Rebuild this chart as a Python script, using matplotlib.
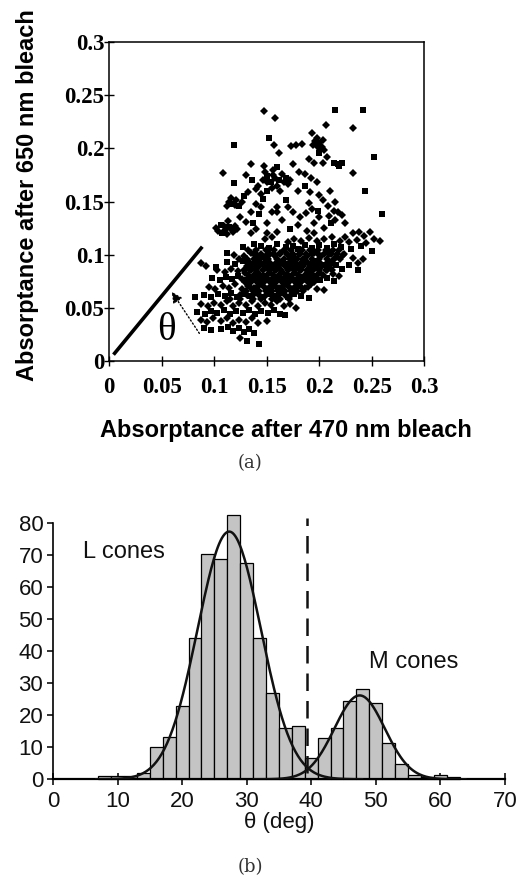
import numpy as np
import matplotlib.pyplot as plt

# ---- panel (a): absorptance scatter ----
# upper cluster (M cones), squares and diamonds
upper_sq = [
    (0.215, 0.236), (0.242, 0.236), (0.152, 0.210), (0.119, 0.203), (0.252, 0.192),
    (0.214, 0.186), (0.218, 0.185), (0.222, 0.186), (0.219, 0.183), (0.160, 0.182),
    (0.244, 0.160), (0.260, 0.138), (0.119, 0.167), (0.136, 0.170), (0.168, 0.151),
    (0.150, 0.174), (0.154, 0.168), (0.162, 0.170), (0.168, 0.172), (0.186, 0.165),
    (0.150, 0.160), (0.128, 0.155), (0.118, 0.148), (0.124, 0.146), (0.146, 0.152),
    (0.143, 0.138), (0.199, 0.141), (0.137, 0.130), (0.211, 0.130), (0.106, 0.128),
    (0.114, 0.126), (0.107, 0.120), (0.172, 0.124), (0.200, 0.196),
]
upper_dm = [
    (0.147, 0.235), (0.158, 0.229), (0.206, 0.222), (0.232, 0.219), (0.193, 0.214),
    (0.196, 0.207), (0.200, 0.205), (0.203, 0.201), (0.198, 0.210), (0.157, 0.203),
    (0.173, 0.202), (0.178, 0.203), (0.184, 0.204), (0.205, 0.198), (0.162, 0.196),
    (0.207, 0.192), (0.195, 0.186), (0.204, 0.186), (0.147, 0.183), (0.156, 0.180),
    (0.108, 0.177), (0.232, 0.177), (0.181, 0.178), (0.186, 0.176), (0.146, 0.170),
    (0.158, 0.172), (0.165, 0.176), (0.170, 0.166), (0.192, 0.172), (0.198, 0.168),
    (0.140, 0.162), (0.145, 0.157), (0.155, 0.163), (0.163, 0.160), (0.191, 0.159),
    (0.200, 0.156), (0.132, 0.159), (0.114, 0.150), (0.121, 0.151), (0.140, 0.148),
    (0.190, 0.149), (0.204, 0.151), (0.208, 0.146), (0.214, 0.141), (0.135, 0.140),
    (0.155, 0.140), (0.187, 0.139), (0.193, 0.143), (0.209, 0.136), (0.218, 0.140),
    (0.222, 0.137), (0.113, 0.132), (0.130, 0.131), (0.150, 0.130), (0.165, 0.133),
    (0.215, 0.133), (0.180, 0.128), (0.102, 0.125), (0.110, 0.123), (0.118, 0.121),
    (0.122, 0.124), (0.140, 0.124), (0.188, 0.122), (0.160, 0.121), (0.087, 0.092),
    (0.092, 0.089),
    (0.150, 0.168), (0.156, 0.175), (0.160, 0.165), (0.166, 0.168), (0.172, 0.170),
    (0.148, 0.178), (0.142, 0.165), (0.198, 0.202), (0.201, 0.199), (0.204, 0.208),
    (0.194, 0.203), (0.116, 0.153), (0.120, 0.147), (0.126, 0.150), (0.112, 0.146),
    (0.104, 0.122), (0.109, 0.127), (0.116, 0.124), (0.112, 0.119), (0.120, 0.127),
    (0.145, 0.145), (0.160, 0.145), (0.175, 0.140), (0.182, 0.135), (0.195, 0.130),
    (0.205, 0.125), (0.225, 0.130), (0.180, 0.160), (0.175, 0.185), (0.190, 0.190),
    (0.210, 0.160), (0.215, 0.150), (0.135, 0.185), (0.130, 0.175), (0.125, 0.135),
    (0.160, 0.140), (0.170, 0.145), (0.195, 0.120), (0.200, 0.135), (0.150, 0.120),
    (0.135, 0.120),
]
# lower cluster (L cones)
lower_sq = [
    (0.082, 0.060), (0.112, 0.102), (0.102, 0.088), (0.131, 0.019), (0.143, 0.016),
    (0.167, 0.043), (0.237, 0.086),
    (0.127, 0.107), (0.138, 0.110), (0.145, 0.108), (0.152, 0.106), (0.160, 0.110),
    (0.168, 0.107), (0.175, 0.108), (0.180, 0.105), (0.186, 0.109), (0.193, 0.106),
    (0.200, 0.109), (0.207, 0.106), (0.214, 0.110), (0.221, 0.107), (0.230, 0.105),
    (0.240, 0.108), (0.250, 0.103),
    (0.112, 0.093), (0.120, 0.091), (0.127, 0.094), (0.133, 0.090), (0.139, 0.093),
    (0.145, 0.091), (0.150, 0.094), (0.156, 0.090), (0.162, 0.093), (0.168, 0.091),
    (0.174, 0.094), (0.180, 0.090), (0.186, 0.093), (0.192, 0.091), (0.198, 0.094),
    (0.204, 0.090), (0.210, 0.093), (0.216, 0.090), (0.222, 0.087), (0.228, 0.090),
    (0.098, 0.078), (0.105, 0.076), (0.111, 0.079), (0.117, 0.077), (0.123, 0.080),
    (0.129, 0.076), (0.135, 0.079), (0.141, 0.077), (0.147, 0.080), (0.153, 0.076),
    (0.159, 0.079), (0.165, 0.077), (0.171, 0.080), (0.177, 0.076), (0.183, 0.079),
    (0.189, 0.077), (0.195, 0.080), (0.201, 0.076), (0.207, 0.078), (0.214, 0.075),
    (0.090, 0.062), (0.097, 0.060), (0.104, 0.063), (0.110, 0.061), (0.116, 0.064),
    (0.122, 0.060), (0.128, 0.063), (0.134, 0.061), (0.140, 0.064), (0.146, 0.060),
    (0.152, 0.063), (0.158, 0.061), (0.164, 0.064), (0.170, 0.060), (0.176, 0.063),
    (0.183, 0.061), (0.190, 0.059),
    (0.084, 0.046), (0.091, 0.044), (0.097, 0.047), (0.103, 0.045), (0.109, 0.048),
    (0.115, 0.044), (0.121, 0.047), (0.127, 0.045), (0.133, 0.048), (0.139, 0.044),
    (0.145, 0.047), (0.151, 0.045), (0.157, 0.048), (0.163, 0.044), (0.167, 0.043),
    (0.090, 0.031), (0.097, 0.029), (0.106, 0.030), (0.113, 0.032), (0.118, 0.028),
    (0.124, 0.031), (0.128, 0.027), (0.133, 0.030), (0.138, 0.026),
]
lower_dm = [
    (0.225, 0.117), (0.232, 0.120), (0.238, 0.121), (0.243, 0.118), (0.248, 0.121),
    (0.252, 0.115), (0.258, 0.113),
    (0.148, 0.115), (0.155, 0.117), (0.170, 0.112), (0.176, 0.115), (0.183, 0.113),
    (0.190, 0.116), (0.198, 0.113), (0.205, 0.115), (0.212, 0.117), (0.220, 0.113),
    (0.228, 0.112), (0.236, 0.114), (0.245, 0.111),
    (0.119, 0.100), (0.128, 0.099), (0.135, 0.102), (0.141, 0.100), (0.147, 0.098),
    (0.153, 0.101), (0.158, 0.099), (0.163, 0.102), (0.170, 0.100), (0.176, 0.098),
    (0.182, 0.101), (0.188, 0.099), (0.195, 0.102), (0.202, 0.099), (0.209, 0.101),
    (0.216, 0.098), (0.223, 0.100), (0.232, 0.097), (0.242, 0.096), (0.237, 0.092),
    (0.103, 0.086), (0.110, 0.084), (0.116, 0.087), (0.123, 0.085), (0.129, 0.083),
    (0.135, 0.086), (0.141, 0.084), (0.147, 0.087), (0.153, 0.083), (0.159, 0.086),
    (0.165, 0.084), (0.171, 0.087), (0.177, 0.083), (0.183, 0.086), (0.189, 0.084),
    (0.195, 0.087), (0.201, 0.083), (0.207, 0.086), (0.213, 0.082), (0.219, 0.080),
    (0.095, 0.070), (0.101, 0.068), (0.108, 0.071), (0.114, 0.069), (0.120, 0.072),
    (0.126, 0.068), (0.132, 0.071), (0.138, 0.069), (0.144, 0.072), (0.150, 0.068),
    (0.156, 0.071), (0.162, 0.069), (0.168, 0.072), (0.174, 0.068), (0.180, 0.071),
    (0.186, 0.069), (0.192, 0.072), (0.198, 0.068), (0.205, 0.067),
    (0.087, 0.054), (0.094, 0.052), (0.100, 0.055), (0.106, 0.053), (0.112, 0.056),
    (0.118, 0.052), (0.124, 0.055), (0.130, 0.053), (0.136, 0.056), (0.142, 0.052),
    (0.148, 0.055), (0.154, 0.053), (0.160, 0.056), (0.166, 0.052), (0.172, 0.054),
    (0.178, 0.050),
    (0.087, 0.039), (0.093, 0.037), (0.099, 0.040), (0.106, 0.038), (0.112, 0.040),
    (0.118, 0.036), (0.124, 0.039), (0.130, 0.037), (0.136, 0.040), (0.142, 0.036),
    (0.150, 0.038), (0.125, 0.022),
]
# dense core of the lower cluster
core_dm = [
    (0.132, 0.104), (0.140, 0.104), (0.149, 0.104), (0.157, 0.104), (0.166, 0.104),
    (0.173, 0.104), (0.184, 0.104), (0.191, 0.104), (0.199, 0.104), (0.206, 0.104),
    (0.213, 0.104), (0.219, 0.104),
    (0.124, 0.096), (0.131, 0.096), (0.138, 0.096), (0.144, 0.096), (0.151, 0.096),
    (0.160, 0.096), (0.166, 0.096), (0.172, 0.096), (0.179, 0.096), (0.185, 0.096),
    (0.193, 0.096), (0.200, 0.096), (0.207, 0.096), (0.214, 0.096), (0.220, 0.096),
    (0.131, 0.089), (0.137, 0.089), (0.143, 0.089), (0.149, 0.089), (0.155, 0.089),
    (0.161, 0.089), (0.167, 0.089), (0.173, 0.089), (0.179, 0.089), (0.185, 0.089),
    (0.191, 0.089), (0.197, 0.089), (0.203, 0.089), (0.209, 0.089),
    (0.132, 0.081), (0.138, 0.081), (0.144, 0.081), (0.150, 0.081), (0.156, 0.081),
    (0.162, 0.081), (0.168, 0.081), (0.174, 0.081), (0.180, 0.081), (0.186, 0.081),
    (0.192, 0.081), (0.198, 0.081), (0.204, 0.081),
    (0.129, 0.074), (0.135, 0.074), (0.141, 0.074), (0.147, 0.074), (0.153, 0.074),
    (0.159, 0.074), (0.165, 0.074), (0.171, 0.074), (0.177, 0.074), (0.183, 0.074),
    (0.189, 0.074), (0.195, 0.074),
    (0.130, 0.066), (0.137, 0.066), (0.143, 0.066), (0.149, 0.066), (0.155, 0.066),
    (0.161, 0.066), (0.167, 0.066), (0.173, 0.066), (0.179, 0.066), (0.185, 0.066),
    (0.115, 0.058), (0.125, 0.058), (0.137, 0.058), (0.145, 0.058), (0.155, 0.058),
    (0.163, 0.058), (0.171, 0.058),
    (0.134, 0.0925), (0.141, 0.0925), (0.147, 0.0925), (0.153, 0.0925), (0.159, 0.0925),
    (0.165, 0.0925), (0.171, 0.0925), (0.177, 0.0925), (0.183, 0.0925), (0.189, 0.0925),
    (0.195, 0.0925), (0.201, 0.0925), (0.207, 0.0925), (0.213, 0.0925),
    (0.126, 0.0775), (0.132, 0.0775), (0.138, 0.0775), (0.144, 0.0775), (0.150, 0.0775),
    (0.156, 0.0775), (0.162, 0.0775), (0.168, 0.0775), (0.174, 0.0775), (0.180, 0.0775),
    (0.186, 0.0775), (0.192, 0.0775), (0.198, 0.0775),
    (0.128, 0.0855), (0.134, 0.0855), (0.140, 0.0855), (0.146, 0.0855), (0.152, 0.0855),
    (0.158, 0.0855), (0.164, 0.0855), (0.170, 0.0855), (0.176, 0.0855), (0.182, 0.0855),
    (0.188, 0.0855), (0.194, 0.0855), (0.200, 0.0855), (0.206, 0.0855), (0.212, 0.0855),
    (0.134, 0.070), (0.141, 0.070), (0.147, 0.070), (0.153, 0.070), (0.159, 0.070),
    (0.165, 0.070), (0.171, 0.070), (0.177, 0.070), (0.183, 0.070), (0.189, 0.070),
    (0.138, 0.1005), (0.145, 0.1005), (0.151, 0.1005), (0.157, 0.1005), (0.163, 0.1005),
    (0.169, 0.1005), (0.175, 0.1005), (0.181, 0.1005), (0.187, 0.1005), (0.193, 0.1005),
    (0.199, 0.1005), (0.205, 0.1005), (0.211, 0.1005), (0.217, 0.1005), (0.224, 0.1005),
    (0.125, 0.062), (0.131, 0.062), (0.137, 0.062), (0.143, 0.062), (0.149, 0.062),
    (0.155, 0.062), (0.161, 0.062), (0.167, 0.062), (0.173, 0.062),
]

axis_line = [(0.004, 0.006), (0.0886, 0.1075)]
arrow_tail = (0.0858, 0.026)
arrow_head = (0.0595, 0.0651)

a_ticks = [0, 0.05, 0.1, 0.15, 0.2, 0.25, 0.3]
a_ticklabels = ["0", "0.05", "0.1", "0.15", "0.2", "0.25", "0.3"]

# ---- panel (b): histogram of theta ----
bin_left = [7, 9, 11, 13, 15, 17, 19, 21, 23, 25, 27, 29, 31, 33, 35, 37, 39,
            41, 43, 45, 47, 49, 51, 53, 55, 57, 59, 61]
counts = [1, 1, 1, 2, 10.2, 13.1, 22.9, 44.1, 70.4, 68.8, 82.6, 67.5, 44.1, 27.1,
          15.9, 16.7, 6.8, 12.8, 15.9, 24.5, 28.1, 23.8, 11.3, 4.7, 1.4, 0.7, 1.4, 0.6]
# gaussian fits: (mean, sd, peak)
l_fit = (27.3, 4.9, 77.4)
m_fit = (47.5, 3.9, 26.2)
split_deg = 39.4

SANS = "Liberation Sans"
SERIF = "Liberation Serif"

fig = plt.figure(figsize=(5.23, 8.75), dpi=100)

ax1 = fig.add_axes([0.209, 0.5874, 0.602, 0.3646])
for pts, mk, ms in [(upper_sq, "s", 4.2), (lower_sq, "s", 4.2),
                    (upper_dm, "D", 4.4), (lower_dm, "D", 4.4), (core_dm, "D", 4.4)]:
    xs = [p[0] for p in pts]
    ys = [p[1] for p in pts]
    ax1.plot(xs, ys, linestyle="none", marker=mk, ms=ms, color="black",
             markeredgewidth=0)

ax1.plot([p[0] for p in axis_line], [p[1] for p in axis_line], color="black", lw=2.6,
         solid_capstyle="butt")
ax1.annotate("", xy=arrow_head, xytext=arrow_tail,
             arrowprops=dict(arrowstyle="-|>", linestyle=":", lw=1.0, color="black",
                             mutation_scale=16, shrinkA=0, shrinkB=0))
ax1.text(0.0547, 0.029, "θ", fontsize=28, family=SERIF, ha="center", va="center")

ax1.set_xlim(0, 0.3)
ax1.set_ylim(0, 0.3)
ax1.set_xticks(a_ticks)
ax1.set_xticklabels(a_ticklabels)
ax1.set_yticks(a_ticks)
ax1.set_yticklabels(a_ticklabels)
ax1.tick_params(direction="inout", length=7, width=1.0, labelsize=16.5, colors="black")
ax1.tick_params(axis="x", pad=8)
ax1.tick_params(axis="y", pad=0)
for lab in ax1.get_xticklabels() + ax1.get_yticklabels():
    lab.set_fontfamily(SERIF)
    lab.set_fontweight("bold")
for sp in ax1.spines.values():
    sp.set_linewidth(1.1)

fig.text(0.052, 1 - 195 / 875, "Absorptance after 650 nm bleach", rotation=90, ha="center",
         va="center", fontsize=17, fontweight="bold", family=SANS)
fig.text(0.547, 1 - 430 / 875, "Absorptance after 470 nm bleach", ha="center",
         va="center", fontsize=17, fontweight="bold", family=SANS)
fig.text(0.478, 1 - 463 / 875, "(a)", ha="center", va="center", fontsize=13,
         family="DejaVu Serif", color="#333333")

ax2 = fig.add_axes([0.1013, 0.1094, 0.864, 0.2926])
ax2.bar(bin_left, counts, width=2, align="edge", color="#c4c4c4", edgecolor="black",
        linewidth=0.9, zorder=2, clip_on=False)

for mu, sd, peak in [l_fit, m_fit]:
    xs = np.linspace(mu - 4.2 * sd, mu + 4.2 * sd, 200)
    ax2.plot(xs, peak * np.exp(-(xs - mu) ** 2 / (2 * sd ** 2)), color="#111111",
             lw=1.8, zorder=3)

ax2.plot([split_deg, split_deg], [2, 81.5], color="#111111", lw=1.8,
         dashes=(7, 4), clip_on=False, zorder=4)

ax2.text(4.6, 71, "L cones", fontsize=17, family=SANS, va="center", color="#111111")
ax2.text(48.9, 36.8, "M cones", fontsize=17, family=SANS, va="center", color="#111111")

ax2.set_xlim(0, 70)
ax2.set_ylim(0, 80)
ax2.set_xticks(range(0, 71, 10))
ax2.set_yticks(range(0, 81, 10))
ax2.spines["top"].set_visible(False)
ax2.spines["right"].set_visible(False)
ax2.spines["left"].set_linewidth(1.2)
ax2.spines["bottom"].set_linewidth(1.6)
ax2.tick_params(axis="y", direction="out", length=4, width=1.2, labelsize=16, pad=3,
                colors="#111111")
ax2.tick_params(axis="x", direction="inout", length=9, width=1.2, labelsize=16, pad=4,
                colors="#111111")
for lab in ax2.get_xticklabels() + ax2.get_yticklabels():
    lab.set_fontfamily(SANS)
ax2.set_xlabel("θ (deg)", fontsize=16, family=SANS, color="#111111", labelpad=0)
fig.text(0.478, 1 - 867 / 875, "(b)", ha="center", va="center", fontsize=13,
         family="DejaVu Serif", color="#333333")

fig.savefig("out.png", dpi=100, facecolor="white")
